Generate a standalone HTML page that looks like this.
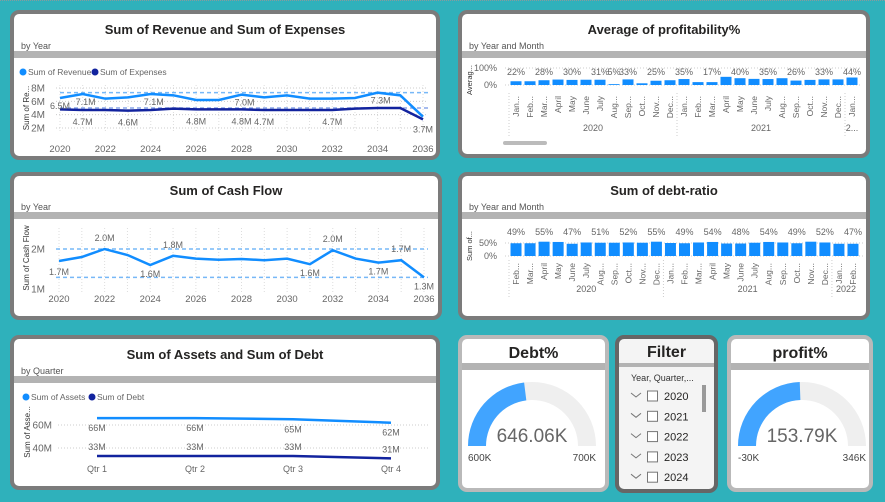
<!DOCTYPE html>
<html><head><meta charset="utf-8">
<style>
*{margin:0;padding:0;box-sizing:border-box}
body{width:885px;height:502px;background:#2fb1bb;position:relative;overflow:hidden;font-family:"Liberation Sans",sans-serif}
.topline{position:absolute;left:0;top:0;width:885px;height:1px;border-top:1px dotted #8a9a9c}
.card{position:absolute;background:#fff;border:4px solid #7b7b7b;border-radius:9px;overflow:hidden}
.card .title{position:absolute;left:0;right:0;text-align:center;font-weight:bold;color:#252423}
.card .sub{position:absolute;left:7px;font-size:9px;color:#555}
.card .bar{position:absolute;left:0;right:0;height:7px;background:#b3b3b3}
.light{border-color:#b9b9b9}
#charts{position:absolute;left:0;top:0}
</style></head>
<body>
<div class="topline"></div>

<div class="card" style="left:10px;top:10px;width:430px;height:150px">
 <div class="title" style="top:8px;font-size:13px">Sum of Revenue and Sum of Expenses</div>
 <div class="sub" style="top:27px">by Year</div>
 <div class="bar" style="top:37px"></div>
</div>
<div class="card" style="left:458px;top:10px;width:412px;height:148px">
 <div class="title" style="top:8px;font-size:13px">Average of profitability%</div>
 <div class="sub" style="top:27px">by Year and Month</div>
 <div class="bar" style="top:37px"></div>
</div>
<div class="card" style="left:10px;top:172px;width:432px;height:148px">
 <div class="title" style="top:7px;font-size:13px">Sum of Cash Flow</div>
 <div class="sub" style="top:26px">by Year</div>
 <div class="bar" style="top:36px"></div>
</div>
<div class="card" style="left:458px;top:172px;width:412px;height:148px">
 <div class="title" style="top:7px;font-size:13px">Sum of debt-ratio</div>
 <div class="sub" style="top:26px">by Year and Month</div>
 <div class="bar" style="top:36px"></div>
</div>
<div class="card" style="left:10px;top:335px;width:430px;height:155px">
 <div class="title" style="top:8px;font-size:13px">Sum of Assets and Sum of Debt</div>
 <div class="sub" style="top:27px">by Quarter</div>
 <div class="bar" style="top:37px"></div>
</div>
<div class="card light" style="left:458px;top:335px;width:151px;height:157px">
 <div class="title" style="top:6px;font-size:16px">Debt%</div>
 <div class="bar" style="top:24px"></div>
</div>
<div class="card" style="left:615px;top:335px;width:103px;height:158px;border-color:#666;background:#f4f4f4">
 <div class="title" style="top:5px;font-size:16px">Filter</div>
 <div class="bar" style="top:24px;height:4px"></div>
</div>
<div class="card light" style="left:727px;top:335px;width:146px;height:157px">
 <div class="title" style="top:6px;font-size:16px">profit%</div>
 <div class="bar" style="top:24px"></div>
</div>

<svg id="charts" width="885" height="502" xmlns="http://www.w3.org/2000/svg" font-family="Liberation Sans, sans-serif"></svg>

<script>
// ---- data ----
const years = [2020,2021,2022,2023,2024,2025,2026,2027,2028,2029,2030,2031,2032,2033,2034,2035,2036];
const revenue = [6.5,7.1,6.4,6.6,7.1,6.9,6.2,6.2,7.0,6.6,6.9,6.4,6.4,6.5,7.3,6.9,3.7];
const expenses = [4.8,4.7,4.7,4.6,4.7,4.9,4.8,4.8,4.8,4.7,4.7,4.7,4.7,4.9,5.0,5.0,3.3];
const revTicks = [2,4,6,8];
const cashFlow = [1.7,1.8,2.0,1.85,1.6,1.83,1.76,1.73,1.75,1.72,1.76,1.62,1.97,1.76,1.66,1.72,1.29];
const cashTicks = [1,2];
const quarters = ['Qtr 1','Qtr 2','Qtr 3','Qtr 4'];
const assets = [66,66,65,62];
const debt = [33,33,33,31];
const assetTicks = [40,60];
const profMonths = ['Jan...','Feb...','Mar...','April','May','June','July','Aug...','Sep...','Oct...','Nov...','Dec...','Jan...','Feb...','Mar...','April','May','June','July','Aug...','Sep...','Oct...','Nov...','Dec...','Jan...'];
const profValues = [22,22,28,32,30,31,31,5,33,10,25,28,35,17,17,48,40,36,35,40,26,30,33,33,44];
const profYears = [['2020',0,12],['2021',12,24],['2...',24,25]];
const drMonths = ['Feb...','Mar...','April','May','June','July','Aug...','Sep...','Oct...','Nov...','Dec...','Jan...','Feb...','Mar...','April','May','June','July','Aug...','Sep...','Oct...','Nov...','Dec...','Jan...','Feb...'];
const drValues = [49,49,55,54,47,52,51,51,52,51,55,50,49,52,54,48,48,51,54,52,49,55,52,47,47];
const drYears = [['2020',0,11],['2021',11,23],['2022',23,25]];
const debtGauge = [600,646.06,700];
const profitGauge = [-30,153.79,346];
const filterYears = ['2020','2021','2022','2023','2024'];

const NS='http://www.w3.org/2000/svg';
const svg=document.getElementById('charts');
function mk(tag,a,txt){const e=document.createElementNS(NS,tag);for(const k in a)e.setAttribute(k,a[k]);if(txt!==undefined)e.textContent=txt;svg.appendChild(e);return e;}
const BLUE='#118dff',DARK='#12239e',GREY='#666';

// ---- chart 1: revenue & expenses ----
const x1=y=>60+(y-2020)*(423-60)/16;
const y1=v=>128-(v-2)*40/6;
years.forEach(y=>{let e=mk('line',{x1:x1(y),x2:x1(y),y1:85,y2:132,stroke:'#ddd','stroke-dasharray':'1 2'});

});
revTicks.forEach(t=>{let g=mk('line',{x1:56,x2:428,y1:y1(t),y2:y1(t),stroke:'#ccc','stroke-dasharray':'1 2'});


let l=mk('text',{x:45,y:y1(t)+3.5,'font-size':10,fill:GREY,'text-anchor':'end'},t+'M');

});
years.forEach((y,i)=>{if(i%2==0){let l=mk('text',{x:x1(y),y:152,'font-size':9.5,fill:GREY,'text-anchor':'middle'},y);

}});
let ra=mk('text',{transform:'translate(29,108) rotate(-90)','font-size':8,fill:'#333','text-anchor':'middle'},'Sum of Re...');


[[Math.max(...revenue),'#77b8f7'],[Math.max(...expenses),'#8aa6e8']].forEach(([v,c])=>{let d=mk('line',{x1:60,x2:428,y1:y1(v),y2:y1(v),stroke:c,'stroke-width':1.5,'stroke-dasharray':'4 3'});

});
let pe=mk('polyline',{points:years.map((y,i)=>x1(y)+','+y1(expenses[i])).join(' '),fill:'none',stroke:DARK,'stroke-width':2.5});


let pr=mk('polyline',{points:years.map((y,i)=>x1(y)+','+y1(revenue[i])).join(' '),fill:'none',stroke:BLUE,'stroke-width':2.5});


[0,1,4,8,14].forEach(i=>{let l=mk('text',{x:x1(years[i])+(i==0?0:3),y:y1(revenue[i])+11,'font-size':9,fill:GREY,'text-anchor':'middle'},revenue[i].toFixed(1)+'M');

});
[1,3,6,8,9,12,16].forEach(i=>{let l=mk('text',{x:x1(years[i]),y:y1(expenses[i])+(i==16?13:15),'font-size':9,fill:GREY,'text-anchor':'middle'},(i==16?revenue[i]:expenses[i]).toFixed(1)+'M');

});
[[23,BLUE,'Sum of Revenue'],[95,DARK,'Sum of Expenses']].forEach(([x,c,t])=>{let d=mk('circle',{cx:x,cy:72,r:3.5,fill:c});


let l=mk('text',{x:x+5,y:75,'font-size':8.5,fill:GREY},t);

});

// ---- chart 3: cash flow ----
const x3=y=>59+(y-2020)*(424-59)/16;
const y3=v=>289-(v-1)*40;
years.forEach(y=>{let e=mk('line',{x1:x3(y),x2:x3(y),y1:228,y2:292,stroke:'#ddd','stroke-dasharray':'1 2'});

});
cashTicks.forEach(t=>{let l=mk('text',{x:45,y:y3(t)+3.5,'font-size':10,fill:GREY,'text-anchor':'end'},t+'M');

});
years.forEach((y,i)=>{if(i%2==0){let l=mk('text',{x:x3(y),y:302,'font-size':9.5,fill:GREY,'text-anchor':'middle'},y);

}});
let ca=mk('text',{transform:'translate(29,258) rotate(-90)','font-size':8,fill:'#333','text-anchor':'middle'},'Sum of Cash Flow');


[Math.max(...cashFlow),Math.min(...cashFlow)].forEach(v=>{let d=mk('line',{x1:56,x2:428,y1:y3(v),y2:y3(v),stroke:'#77b8f7','stroke-width':1.5,'stroke-dasharray':'4 3'});

});
let pc=mk('polyline',{points:years.map((y,i)=>x3(y)+','+y3(cashFlow[i])).join(' '),fill:'none',stroke:BLUE,'stroke-width':2.5});


[[0,14],[2,-8],[4,12],[5,-8],[11,12],[12,-8],[14,12],[15,-8],[16,12]].forEach(([i,o])=>{let l=mk('text',{x:x3(years[i]),y:y3(cashFlow[i])+o,'font-size':9,fill:GREY,'text-anchor':'middle'},cashFlow[i].toFixed(1)+'M');

});

// ---- chart 5: assets & debt ----
const x5=q=>97+q*98;
const y5=v=>425-(v-60)*1.15;
assetTicks.forEach(t=>{let g=mk('line',{x1:58,x2:428,y1:y5(t),y2:y5(t),stroke:'#ccc','stroke-dasharray':'1 2'});


let l=mk('text',{x:52,y:y5(t)+3.5,'font-size':10,fill:GREY,'text-anchor':'end'},t+'M');

});
quarters.forEach((q,i)=>{let l=mk('text',{x:x5(i),y:472,'font-size':9,fill:GREY,'text-anchor':'middle'},q);

});
let aa=mk('text',{transform:'translate(30,432) rotate(-90)','font-size':8,fill:'#333','text-anchor':'middle'},'Sum of Asse...');


let pa=mk('polyline',{points:quarters.map((q,i)=>x5(i)+','+y5(assets[i])).join(' '),fill:'none',stroke:BLUE,'stroke-width':2.5});


let pd=mk('polyline',{points:quarters.map((q,i)=>x5(i)+','+y5(debt[i])).join(' '),fill:'none',stroke:DARK,'stroke-width':2.5});


quarters.forEach((q,i)=>{let l=mk('text',{x:x5(i),y:y5(assets[i])+13,'font-size':9,fill:GREY,'text-anchor':'middle'},assets[i]+'M');


let m=mk('text',{x:x5(i),y:y5(debt[i])-6,'font-size':9,fill:GREY,'text-anchor':'middle'},debt[i]+'M');

});
[[26,BLUE,'Sum of Assets'],[92,DARK,'Sum of Debt']].forEach(([x,c,t])=>{let d=mk('circle',{cx:x,cy:397,r:3.5,fill:c});


let l=mk('text',{x:x+5,y:400,'font-size':8.5,fill:GREY},t);

});

// ---- bar charts ----
function barChart(o){
 const cx=i=>o.x0+o.slot*(i+0.5);
 const yb=v=>o.base-v*o.scale;
 o.ticks.forEach(t=>{let g=mk('line',{x1:o.x0-4,x2:o.x0+o.slot*o.vals.length+3,y1:yb(t),y2:yb(t),stroke:'#ccc','stroke-dasharray':'1 2'});
 
 
 let l=mk('text',{x:497,y:yb(t)+3,'font-size':9,fill:GREY,'text-anchor':'end'},t+'%');
 
 });
 o.vals.forEach((v,i)=>{let b=mk('rect',{x:cx(i)-5.5,y:yb(v),width:11,height:v*o.scale,fill:BLUE});
 
 
 let m=mk('text',{transform:'translate('+(cx(i)+3)+','+o.my+') rotate(-90)','font-size':8.5,fill:GREY,'text-anchor':'end'},o.months[i]);
 
 });
 o.labels.forEach(i=>{let l=mk('text',{x:cx(i),y:o.labelY===undefined?yb(o.vals[i])-6:o.labelY,'font-size':9,fill:GREY,'text-anchor':'middle'},o.vals[i]+'%');
 
 });
 o.years.forEach(([t,a,b])=>{let s=mk('line',{x1:o.x0+o.slot*a,x2:o.x0+o.slot*a,y1:o.my-3,y2:o.yy+5,stroke:'#ccc','stroke-dasharray':'1 2'});
 
 
 let l=mk('text',{x:o.x0+o.slot*(a+b)/2,y:o.yy,'font-size':9,fill:GREY,'text-anchor':'middle'},t);
 
 });
 let at=mk('text',{transform:'translate('+o.tx+','+o.ty+') rotate(-90)','font-size':7.5,fill:'#333','text-anchor':'middle'},o.title);
 
 
}
barChart({name:'profitability',x0:509,slot:14,base:85,scale:0.17,ticks:[0,100],vals:profValues,months:profMonths,labels:[0,2,4,6,7,8,10,12,14,16,18,20,22,24],labelY:75,my:96,yy:131,years:profYears,title:'Averag...',tx:472,ty:80});
barChart({name:'debt-ratio',x0:509,slot:14.04,base:256,scale:0.26,ticks:[0,50],vals:drValues,months:drMonths,labels:[0,2,4,6,8,10,12,14,16,18,20,22,24],labelY:235,my:263,yy:292,years:drYears,title:'Sum of...',tx:472,ty:246});
let sb=mk('rect',{x:503,y:141,width:44,height:4,rx:2,fill:'#bbb'});



// ---- gauges ----
function arc(cx,cy,r0,r1,f){const a=Math.PI*(1-f);const xo=cx+r1*Math.cos(a),yo=cy-r1*Math.sin(a),xi=cx+r0*Math.cos(a),yi=cy-r0*Math.sin(a);
 return 'M'+(cx-r1)+','+cy+' A'+r1+','+r1+' 0 0 1 '+xo+','+yo+' L'+xi+','+yi+' A'+r0+','+r0+' 0 0 0 '+(cx-r0)+','+cy+'Z';}
function gauge(name,cx,d,fmt){
 const f=(d[1]-d[0])/(d[2]-d[0]);
 let bg=mk('path',{d:arc(cx,446,46,64,1),fill:'#efefef'});
 
 
 let fg=mk('path',{d:arc(cx,446,46,64,f),fill:'#41a4ff'});
 
 
 let v=mk('text',{x:cx,y:442,'font-size':19,fill:'#666','text-anchor':'middle'},d[1].toFixed(2)+'K');
 
 
 let mn=mk('text',{x:cx-64,y:461,'font-size':10,fill:'#444'},d[0]+'K');
 
 
 let mx=mk('text',{x:cx+64,y:461,'font-size':10,fill:'#444','text-anchor':'end'},d[2]+'K');
 
 
}
gauge('debt',532,debtGauge);
gauge('profit',802,profitGauge);

// ---- filter slicer ----
let fh=mk('text',{x:631,y:381,'font-size':9,fill:'#333'},'Year, Quarter,...');


filterYears.forEach((y,i)=>{const yy=396+i*20.3;
 let c=mk('polyline',{points:(631)+','+(yy-3)+' '+(636)+','+(yy+1)+' '+(641)+','+(yy-3),fill:'none',stroke:'#777','stroke-width':1});
 
 
 let b=mk('rect',{x:647.5,y:yy-5,width:10,height:10,fill:'#fff',stroke:'#777','stroke-width':1});
 
 
 let t=mk('text',{x:664,y:yy+4,'font-size':11,fill:'#252423'},y);
 
 });
let fs=mk('rect',{x:702,y:385,width:4,height:27,fill:'#999'});


</script>
</body></html>
